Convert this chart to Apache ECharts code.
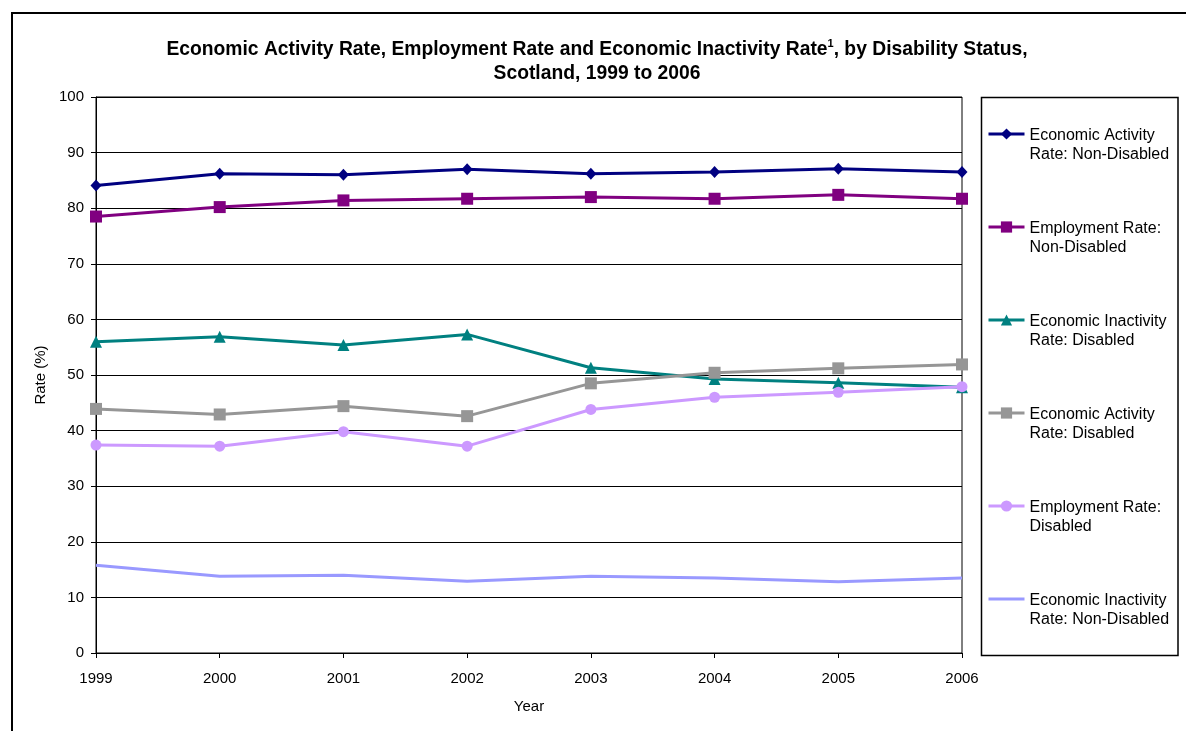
<!DOCTYPE html>
<html>
<head>
<meta charset="utf-8">
<script src="https://cdn.jsdelivr.net/npm/echarts@6/dist/echarts.min.js"></script>
<style>
html,body{margin:0;padding:0;background:#fff;}
#main{width:1186px;height:731px;}
</style>
</head>
<body>
<div id="main"></div>
<script>
// ---- data ----
var years = ['1999', '2000', '2001', '2002', '2003', '2004', '2005', '2006'];
var econActivityNonDisabled = [84.1, 86.2, 86.0, 87.0, 86.2, 86.5, 87.1, 86.5];
var employmentNonDisabled = [78.5, 80.2, 81.4, 81.7, 82.0, 81.7, 82.4, 81.7];
var econInactivityDisabled = [56.0, 56.9, 55.4, 57.3, 51.3, 49.3, 48.6, 47.8];
var econActivityDisabled = [43.9, 42.9, 44.4, 42.6, 48.5, 50.4, 51.2, 51.9];
var employmentDisabled = [37.4, 37.2, 39.8, 37.2, 43.8, 46.0, 46.9, 47.9];
var econInactivityNonDisabled = [15.8, 13.8, 14.0, 12.9, 13.8, 13.5, 12.8, 13.5];
var seriesNames = [
  'Economic Activity\nRate: Non-Disabled',
  'Employment Rate:\nNon-Disabled',
  'Economic Inactivity\nRate: Disabled',
  'Economic Activity\nRate: Disabled',
  'Employment Rate:\nDisabled',
  'Economic Inactivity\nRate: Non-Disabled'
];
var yTicks = {min: 0, max: 100, interval: 10};

var FONT = 'Arial, "Liberation Sans", sans-serif';

function lineSeries(name, data, color, symbol, size) {
  return {
    name: name,
    type: 'line',
    data: data,
    symbol: symbol,
    symbolSize: size,
    showSymbol: symbol !== 'none',
    lineStyle: {color: color, width: 3},
    itemStyle: {color: color},
    emphasis: {disabled: true}
  };
}

var legendData = seriesNames.map(function (n, i) {
  if (i === 5) {
    return {name: n, icon: 'path://M0,0 L36,0 L36,3 L0,3 Z'};
  }
  return {name: n};
});

var chart = echarts.init(document.getElementById('main'), null, {renderer: 'canvas'});
chart.setOption({
  animation: false,
  backgroundColor: '#fff',
  graphic: [
    {type: 'rect', shape: {x: 12, y: 13, width: 1300, height: 900}, style: {fill: 'none', stroke: '#000', lineWidth: 2}, silent: true, z: -1},
    {type: 'rect', shape: {x: 981.5, y: 97.5, width: 196.5, height: 558}, style: {fill: 'none', stroke: '#000', lineWidth: 1.5}, silent: true, z: -1},
    {
      type: 'text',
      x: 597,
      y: 38,
      silent: true,
      style: {
        text: '{t|Economic Activity Rate, Employment Rate and Economic Inactivity Rate}{s|1}{t|, by Disability Status,}\n{t|Scotland, 1999 to 2006}',
        align: 'center',
        verticalAlign: 'top',
        fill: '#000',
        font: 'bold 19.3px ' + FONT,
        rich: {
          t: {fontFamily: FONT, fontWeight: 'bold', fontSize: 19.3, lineHeight: 24, fill: '#000'},
          s: {fontFamily: FONT, fontWeight: 'bold', fontSize: 11, lineHeight: 24, fill: '#000', padding: [0, 0, 12, 0]}
        }
      }
    }
  ],
  legend: {
    orient: 'vertical',
    left: 987,
    top: 103.5,
    padding: 0,
    itemWidth: 36,
    itemHeight: 14,
    itemGap: 32,
    selectedMode: false,
    lineStyle: {width: 3},
    formatter: function (name) {
      var parts = name.split('\n');
      return '{p| }\n{a|' + parts[0] + '}\n{a|' + parts[1] + '}';
    },
    textStyle: {
      fontFamily: FONT,
      fontSize: 16,
      lineHeight: 19,
      color: '#000',
      rich: {
        p: {fontFamily: FONT, fontSize: 16, lineHeight: 23, color: '#000'},
        a: {fontFamily: FONT, fontSize: 16, lineHeight: 19, color: '#000'}
      }
    },
    data: legendData
  },
  grid: {
    left: 96,
    right: 224,
    top: 97,
    bottom: 78,
    show: true,
    borderColor: '#000',
    borderWidth: 1,
    backgroundColor: '#fff'
  },
  xAxis: {
    type: 'category',
    data: years,
    boundaryGap: false,
    name: 'Year',
    nameLocation: 'middle',
    nameGap: 46,
    nameTextStyle: {fontFamily: FONT, fontSize: 15, color: '#000'},
    axisLine: {lineStyle: {color: '#000', width: 1}},
    axisTick: {show: true, length: 5, alignWithLabel: true, lineStyle: {color: '#000'}},
    axisLabel: {fontFamily: FONT, fontSize: 15, color: '#000', margin: 18},
    splitLine: {show: false}
  },
  yAxis: {
    type: 'value',
    min: yTicks.min,
    max: yTicks.max,
    interval: yTicks.interval,
    name: 'Rate (%)',
    nameLocation: 'middle',
    nameGap: 39,
    nameTextStyle: {fontFamily: FONT, fontSize: 15, color: '#000'},
    axisLine: {show: true, lineStyle: {color: '#000', width: 1}},
    axisTick: {show: true, length: 5, lineStyle: {color: '#000'}},
    axisLabel: {fontFamily: FONT, fontSize: 15, color: '#000', margin: 12},
    splitLine: {show: true, lineStyle: {color: '#000', width: 1}}
  },
  series: [
    lineSeries(seriesNames[0], econActivityNonDisabled, '#000080', 'diamond', [11, 12]),
    lineSeries(seriesNames[1], employmentNonDisabled, '#800080', 'rect', 12),
    lineSeries(seriesNames[2], econInactivityDisabled, '#008080', 'triangle', 12),
    lineSeries(seriesNames[3], econActivityDisabled, '#969696', 'rect', 12),
    lineSeries(seriesNames[4], employmentDisabled, '#CC99FF', 'circle', 11),
    lineSeries(seriesNames[5], econInactivityNonDisabled, '#9999FF', 'none', 0)
  ]
});
</script>
</body>
</html>
